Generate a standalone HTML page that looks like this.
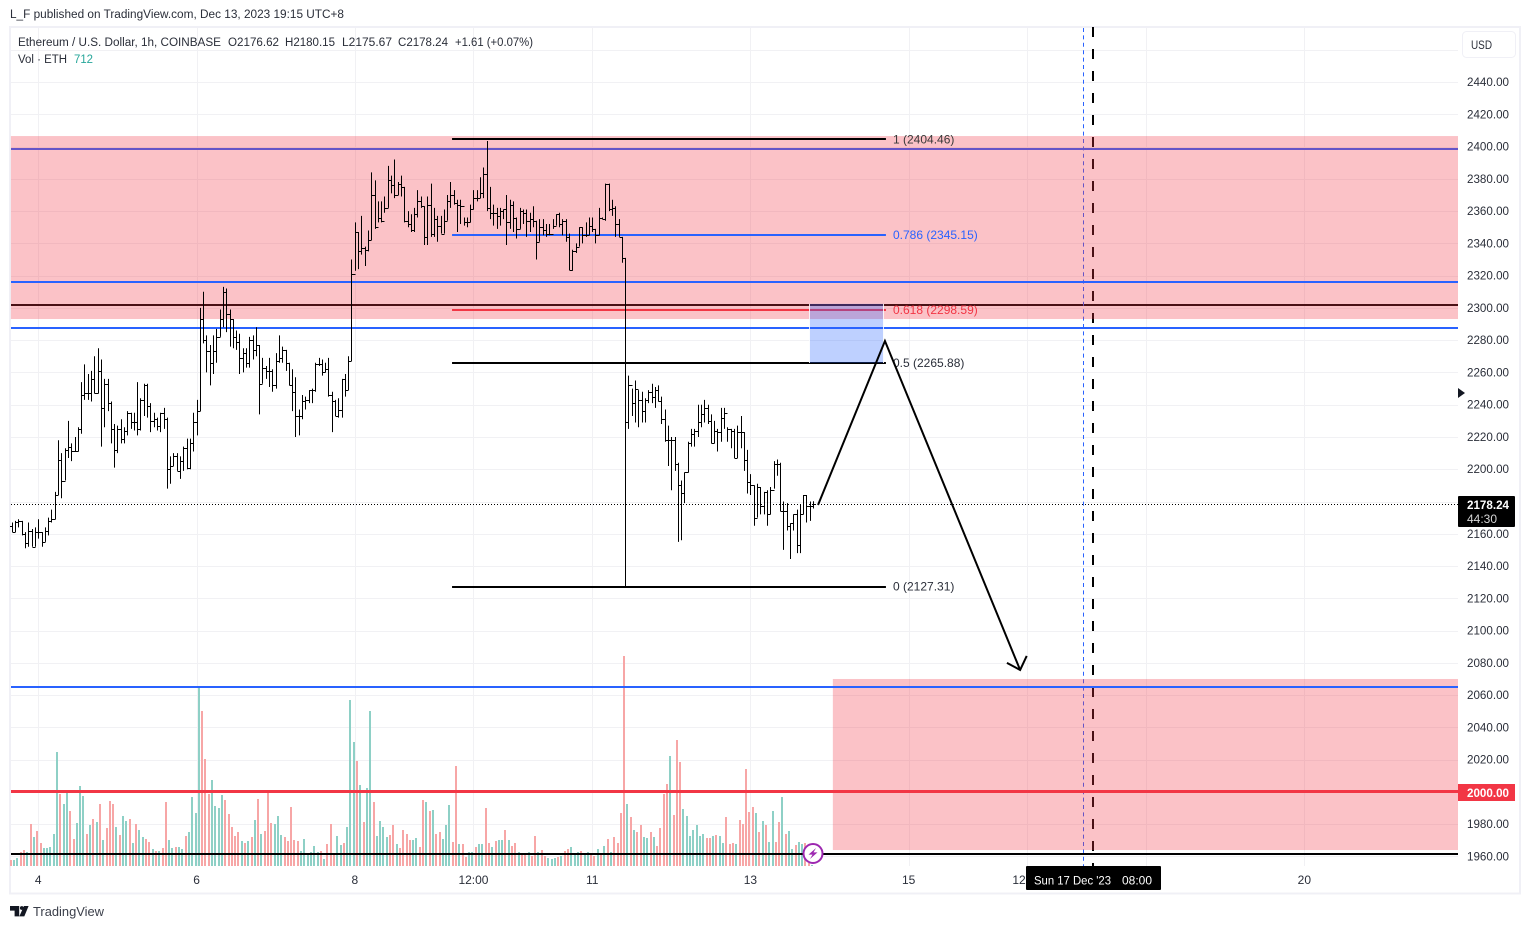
<!DOCTYPE html>
<html lang="en">
<head>
<meta charset="utf-8">
<title>ETH/USD chart</title>
<style>
html,body{margin:0;padding:0;background:#fff;width:1530px;height:929px;overflow:hidden}
svg{display:block;font-family:"Liberation Sans",Arial,sans-serif}
text{fill:#2a2e39;font-size:11.5px}
</style>
</head>
<body>
<svg id="chart" width="1530" height="929" viewBox="0 0 1530 929" xmlns="http://www.w3.org/2000/svg">
  <rect x="0" y="0" width="1530" height="929" fill="#ffffff"/>
  <text x="10" y="18" textLength="334" lengthAdjust="spacingAndGlyphs">L_F published on TradingView.com, Dec 13, 2023 19:15 UTC+8</text>
  <rect x="10" y="27" width="1510" height="866.5" fill="none" stroke="#f0f0f6" stroke-width="2"/>
  <g id="grid"></g>
  <g id="under"></g>
  <g id="zones"></g>
  <g id="volume"></g>
  <g id="levels"></g>
  <g id="fib"></g>
  <g id="ohlc"></g>
  <g id="overlay"></g>
  <g>
    <circle cx="813" cy="853.5" r="9.5" fill="#ffffff" stroke="#9c27b0" stroke-width="2"/>
    <path d="M816 848 L808.5 854.6 H812.5 L810 859 L817.5 852.4 H813.5 Z" fill="#9c27b0"/>
  </g>
  <text x="18" y="46" textLength="203" lengthAdjust="spacingAndGlyphs">Ethereum / U.S. Dollar, 1h, COINBASE</text>
  <text x="228" y="46" textLength="51" lengthAdjust="spacingAndGlyphs">O2176.62</text>
  <text x="285" y="46" textLength="50" lengthAdjust="spacingAndGlyphs">H2180.15</text>
  <text x="342" y="46" textLength="50" lengthAdjust="spacingAndGlyphs">L2175.67</text>
  <text x="398" y="46" textLength="50" lengthAdjust="spacingAndGlyphs">C2178.24</text>
  <text x="455" y="46" textLength="78" lengthAdjust="spacingAndGlyphs">+1.61 (+0.07%)</text>
  <text x="18" y="63" textLength="49" lengthAdjust="spacingAndGlyphs">Vol · ETH</text>
  <text x="74" y="63" textLength="19" lengthAdjust="spacingAndGlyphs" style="fill:#26a69a">712</text>
  <g id="priceAxis"></g>
  <g id="timeAxis"></g>
  <rect x="1462.5" y="31.5" width="53" height="26" rx="4" fill="#ffffff" stroke="#f0f0f6"/>
  <text x="1471" y="49" textLength="21" lengthAdjust="spacingAndGlyphs">USD</text>
  <path d="M1458 388 L1465 393 L1458 398 Z" fill="#131722"/>
  <rect x="1458" y="784" width="57" height="17" fill="#f23645"/>
  <text x="1467" y="797" textLength="42" lengthAdjust="spacingAndGlyphs" style="fill:#fff;font-weight:bold">2000.00</text>
  <rect x="1458" y="496" width="57" height="31" rx="1" fill="#000000"/>
  <text x="1467" y="509" textLength="42" lengthAdjust="spacingAndGlyphs" style="fill:#fff;font-weight:bold">2178.24</text>
  <text x="1467" y="523" textLength="30" lengthAdjust="spacingAndGlyphs" style="fill:#d6d6d6">44:30</text>
  <rect x="1026" y="866" width="135" height="24" rx="1" fill="#000000"/>
  <text x="1034" y="884.5" textLength="77" lengthAdjust="spacingAndGlyphs" style="fill:#fff;font-size:12px">Sun 17 Dec '23</text>
  <text x="1122" y="884.5" textLength="30" lengthAdjust="spacingAndGlyphs" style="fill:#fff;font-size:12px">08:00</text>
  <g>
    <path d="M10 906h9.2v10.4h-4.6v-5.8H10z" fill="#131722"/>
    <circle cx="21.8" cy="908" r="1.9" fill="#131722"/>
    <path d="M24 906h4.6l-4.3 10.4h-5z" fill="#131722"/>
  </g>
  <text x="33" y="916" textLength="71" lengthAdjust="spacingAndGlyphs" style="font-size:13px;fill:#3b3f4a">TradingView</text>
</svg>
<script>
const highs = [
2167,2168,2169,2168,2161,2167,2163,2164,2169,2161,
2164,2170,2175,2186,2218,2210,2213,2230,2216,2220,
2226,2254,2265,2259,2261,2270,2275,2268,2256,2256,
2242,2228,2227,2231,2226,2236,2235,2235,2254,2244,
2253,2253,2241,2235,2232,2235,2238,2232,2208,2210,
2210,2208,2214,2219,2219,2235,2243,2300,2310,2283,
2277,2283,2287,2299,2313,2312,2299,2293,2286,2284,
2275,2275,2282,2283,2288,2277,2269,2264,2269,2262,
2272,2283,2276,2274,2266,2262,2257,2237,2246,2245,
2249,2250,2266,2269,2268,2266,2269,2248,2243,2244,
2256,2259,2270,2330,2353,2347,2357,2338,2348,2384,
2379,2366,2366,2369,2388,2382,2392,2378,2382,2375,
2360,2358,2362,2373,2369,2363,2369,2377,2362,2357,
2357,2361,2370,2378,2373,2367,2367,2356,2356,2364,
2373,2373,2381,2387,2403.4,2375,2364,2362,2362,2361,
2370,2367,2366,2356,2362,2361,2361,2359,2363,2354,
2355,2355,2352,2352,2355,2358,2359,2355,2355,2346,
2336,2340,2350,2350,2353,2356,2356,2349,2362,2356,
2377,2377,2367,2363,2355,2344,2331,2258,2250,2255,
2249,2248,2244,2249,2253,2251,2252,2245,2237,2227,
2220,2220,2204,2193,2198,2217,2225,2225,2240,2240,
2243,2240,2234,2230,2225,2238,2238,2226,2225,2225,
2227,2233,2223,2212,2197,2190,2191,2189,2186,2187,
2189,2205,2206,2204,2180,2179,2166.5,2172,2175,2178,
2184,2184,2180,2180.15];
const lows = [
2161,2161,2164,2159,2151,2152,2152,2152,2157,2152,
2155,2159,2167,2169,2184,2182,2193,2207,2205,2211,
2211,2222,2243,2243,2242,2247,2247,2214,2226,2236,
2216,2201,2210,2216,2216,2221,2225,2224,2221,2224,
2233,2232,2223,2226,2224,2223,2225,2188,2191,2202,
2199,2194,2199,2200,2200,2211,2221,2236,2278,2260,
2252,2259,2266,2282,2288,2285,2276,2275,2274,2259,
2260,2263,2263,2268,2270,2234,2253,2256,2251,2248,
2250,2266,2266,2261,2252,2236,2220,2221,2231,2237,
2241,2241,2248,2264,2258,2260,2245,2223,2233,2232,
2232,2245,2249,2267,2323,2324,2333,2326,2335,2342,
2349,2353,2353,2359,2362,2371,2368,2370,2369,2353,
2350,2347,2347,2356,2362,2339,2339,2344,2344,2341,
2346,2346,2354,2362,2364,2347,2352,2351,2350,2353,
2361,2366,2368,2368,2360,2355,2351,2349,2351,2355,
2339,2349,2347,2343,2349,2352,2344,2347,2350,2330,
2341,2345,2344,2345,2349,2351,2350,2345,2341,2323.4,
2323,2334,2338,2340,2344,2345,2347,2340,2345,2355,
2354,2360,2357,2344,2344,2328,2127.31,2225,2233,2229,
2226,2229,2229,2241,2241,2238,2242,2228,2217,2202,
2187,2199,2155,2156,2179,2198,2214,2214,2220,2226,
2229,2228,2216,2216,2211,2217,2225,2217,2213,2207,
2207,2213,2199,2185,2184,2165,2170,2172,2172,2165,
2172,2188,2196,2174,2150,2162,2144.4,2162,2148,2148,
2172,2167,2168,2175.67];
const closes = [
2161,2167,2168,2160,2154,2162,2152,2161,2161,2155,
2162,2168,2169,2184,2206,2193,2212,2214,2211,2211,
2225,2246,2247,2247,2256,2247,2261,2238,2253,2241,
2225,2212,2225,2219,2224,2235,2229,2229,2225,2243,
2252,2239,2230,2231,2227,2235,2231,2200,2202,2208,
2199,2205,2213,2201,2216,2229,2236,2293,2280,2273,
2266,2273,2282,2293,2310,2296,2293,2282,2279,2269,
2272,2266,2280,2274,2277,2253,2263,2261,2261,2252,
2267,2269,2274,2266,2252,2248,2233,2233,2242,2243,
2249,2249,2265,2265,2260,2262,2246,2242,2233,2237,
2256,2249,2267,2321,2347,2335,2337,2336,2342,2370,
2350,2356,2354,2362,2379,2376,2370,2377,2375,2354,
2352,2348,2358,2366,2363,2344,2364,2346,2355,2351,
2346,2354,2366,2370,2365,2364,2363,2353,2353,2361,
2368,2368,2371,2383,2362,2359,2359,2357,2360,2361,
2353,2364,2356,2349,2360,2359,2354,2355,2354,2341,
2350,2348,2346,2346,2351,2358,2352,2354,2344,2323.4,
2335,2338,2350,2345,2345,2351,2349,2345,2356,2355,
2377,2361,2362,2352,2344,2331,2229.5,2252,2241,2250,
2243,2236,2243,2248,2245,2249,2242,2231,2218,2218,
2218,2203,2190,2185,2198,2216,2222,2224,2229,2234,
2238,2230,2216,2224,2223,2232,2235,2225,2224,2207,
2223,2223,2206,2192,2190,2170,2189,2177,2186,2172,
2187,2203,2203,2174,2174,2165,2166.5,2172,2153,2172,
2184,2177,2177,2178.24];
const firstOpen = 2165;
const volumes = [
6,6,8,14,16,14,42,29,35,23,
18,18,19,32,114,72,62,75,55,27,
43,80,70,32,41,47,44,62,26,38,
65,62,39,31,50,45,47,23,42,36,
29,27,24,17,15,15,18,64,26,18,
19,19,17,30,34,69,53,179,155,107,
72,86,60,58,71,66,52,39,30,34,
25,23,25,29,46,67,32,35,76,43,
42,50,31,29,25,59,26,25,15,27,
12,14,20,14,15,7,22,42,12,30,
21,23,39,166,124,105,81,44,78,155,
64,30,45,39,29,31,41,22,18,36,
32,26,26,28,19,66,64,55,56,32,
34,27,41,61,24,100,22,22,9,14,
14,19,22,22,58,23,19,25,26,26,
36,26,20,23,14,11,11,14,10,30,
14,16,10,8,7,8,9,10,15,17,
19,12,14,15,12,14,12,10,17,11,
20,27,14,29,23,53,210,62,49,36,
34,41,29,28,34,29,20,38,72,82,
110,51,126,104,57,50,30,36,41,30,
32,28,28,30,31,30,23,49,22,23,
22,46,42,97,54,59,53,34,45,41,
24,55,24,44,69,32,35,17,21,24,
22,23,3,1];
const volumeColors = (
"rggrrgrgrr"+"gggggrggrr"+"gggrgrgrgr"+"rrgrggrgrg"+"grrgrgrrgg"+
"rggrggggrr"+"rggggrrrrr"+"grgrgrgrrr"+"gggrrrrrgg"+"ggggrgrrrg"+
"grgggrgrgg"+"rggggrrgrr"+"rrggrrgrgr"+"rgggrrgrrg"+"grggrrgrgg"+
"rgrrgrrgrr"+"grrgggrgrr"+"gggrggrrgr"+"grgrrrrgrg"+"rrggrgrrrr"+
"grrrgggggg"+"grrgrggrrr"+"grrrrrgrgr"+"ggrrgrggrg"+"grrg").split("");
const priceTicks = [2440,2420,2400,2380,2360,2340,2320,2300,2280,2260,2240,2220,2200,2180,2160,2140,2120,2100,2080,2060,2040,2020,2000,1980,1960];
const hiddenGridTicks = [2460];
const timeTickIndex = [8,56,104,140,176,224,272,308,344,392];
const timeTickLabels = ["4","6","8","12:00","11","13","15","12:00","18","20"];
const fibRatios = ["1","0.786","0.618","0.5","0"];
const fibPrices = [2404.46,2345.15,2298.59,2265.88,2127.31];
const fibColors = ["#000000","#2962ff","#f23645","#000000","#000000"];
const fibLabelColors = ["#3a3a3a","#2962ff","#f23645","#2a2e39","#2a2e39"];
const fibStartIndex = 133.5;
const fibEndIndex = 265.1;
const arrowIndex = [244.5,264.8,305.8];
const arrowPrice = [2177.8,2279.5,2075.6];
const arrowHeadIndex = [301.8,305.8,307.8];
const arrowHeadPrice = [2080,2075.6,2084.3];
const zoneTop = [2406.5,2070];
const zoneBottom = [2293.1,1964];
const zoneStartIndex = [-0.3,249];
const levelUnderPrices = [2398.5,2301.8];
const levelUnderColors = ["#2962ff","#000000"];
const levelOverPrices = [2316,2287.5,2065,2000,1961.6];
const levelOverColors = ["#2962ff","#2962ff","#2962ff","#f23645","#000000"];
const levelOverWidths = [2,2,2,3,2];
const lastPrice = 2178.24;
const entryBoxIndex = [241.8,264.3];
const entryBoxPrice = [2302.5,2265.88];
const verticalThinIndex = 325;
const verticalThickIndex = 327.9;

const PANE_L = 11, PANE_R = 1458, PANE_T = 28, PANE_B = 866;
const NS = "http://www.w3.org/2000/svg";
function yScale(p){ return 82 + (2440 - p) * 1.6135; }
function xScale(i){ return 11.9 + 3.297 * i; }
function volHeight(v){ return v * 1; }
function snapY(y, w){ return w % 2 === 0 ? Math.round(y) : Math.floor(y) + 0.5; }
function make(tag, attrs, parent){
  const e = document.createElementNS(NS, tag);
  for (const k in attrs) e.setAttribute(k, attrs[k]);
  parent.appendChild(e);
  return e;
}
function g(id){ return document.getElementById(id); }

/* grid */
priceTicks.concat(hiddenGridTicks).forEach(function(p){
  const y = Math.round(yScale(p)) + 0.5;
  const l = make("line", {x1:PANE_L, x2:PANE_R, y1:y, y2:y, stroke:"#f1f1f4", "stroke-width":1}, g("grid"));
  
  
});
timeTickIndex.forEach(function(ti){
  const x = Math.round(xScale(ti)) + 0.5;
  const l = make("line", {x1:x, x2:x, y1:PANE_T, y2:PANE_B, stroke:"#f1f1f4", "stroke-width":1}, g("grid"));
  
  
});

/* drawn beneath the translucent zones */
levelUnderPrices.forEach(function(p, k){
  const y = snapY(yScale(p), 2);
  const l = make("line", {x1:PANE_L, x2:PANE_R, y1:y, y2:y, stroke:levelUnderColors[k], "stroke-width":2}, g("under"));
  
  
});
const thinV = make("line", {x1:Math.floor(xScale(verticalThinIndex))+0.5, x2:Math.floor(xScale(verticalThinIndex))+0.5, y1:PANE_T, y2:PANE_B, stroke:"#2962ff", "stroke-width":1, "stroke-dasharray":"4 3.4"}, g("under"));


const thickV = make("line", {x1:Math.round(xScale(verticalThickIndex)), x2:Math.round(xScale(verticalThickIndex)), y1:27, y2:PANE_B, stroke:"#000000", "stroke-width":2, "stroke-dasharray":"10 12"}, g("under"));



/* zones */
zoneTop.forEach(function(p, k){
  const y1 = yScale(p), y2 = yScale(zoneBottom[k]), x = xScale(zoneStartIndex[k]);
  const r = make("rect", {x:x, y:y1, width:PANE_R - x, height:y2 - y1, fill:"rgba(242,54,69,0.3)"}, g("zones"));
  
  
});

/* volume */
volumes.forEach(function(v, i){
  const h = volHeight(v);
  const x = Math.round(xScale(i)) - 2;
  const r = make("rect", {x:x, y:PANE_B - h, width:2, height:h, fill:volumeColors[i] === "g" ? "#8ed0c6" : "#f7a6a6"}, g("volume"));
  
  
});

/* levels */
levelOverPrices.forEach(function(p, k){
  const y = snapY(yScale(p), levelOverWidths[k]);
  const l = make("line", {x1:PANE_L, x2:PANE_R, y1:y, y2:y, stroke:levelOverColors[k], "stroke-width":levelOverWidths[k]}, g("levels"));
  
  
});
const lastLine = make("line", {x1:PANE_L, x2:PANE_R, y1:Math.round(yScale(lastPrice))+0.5, y2:Math.round(yScale(lastPrice))+0.5, stroke:"#000000", "stroke-width":1, "stroke-dasharray":"1 2"}, g("levels"));



/* fib */
fibPrices.forEach(function(p, k){
  const y = yScale(p);
  const ly = snapY(y, 2);
  const l = make("line", {x1:xScale(fibStartIndex), x2:xScale(fibEndIndex), y1:ly, y2:ly, stroke:fibColors[k], "stroke-width":2}, g("fib"));
  
  
  const t = make("text", {x:893, y:y + 4, style:"font-size:12px;fill:" + fibLabelColors[k]}, g("fib"));
  
  
  t.textContent = fibRatios[k] + " (" + p.toFixed(2) + ")";
});

/* OHLC */
closes.forEach(function(c, i){
  const o = i === 0 ? firstOpen : closes[i - 1];
  const x = Math.round(xScale(i));
  const d = "M" + (x + 0.5) + " " + yScale(highs[i]) + "V" + yScale(lows[i]) +
    "M" + (x - 2) + " " + (Math.round(yScale(o)) + 0.5) + "H" + (x + 0.5) +
    "M" + (x + 0.5) + " " + (Math.round(yScale(c)) + 0.5) + "H" + (x + 3);
  const p = make("path", {d:d, fill:"none", stroke:"#000000", "stroke-width":1}, g("ohlc"));
  
  
});

/* entry box */
const bx1 = Math.round(xScale(entryBoxIndex[0])) + 0.5, bx2 = Math.round(xScale(entryBoxIndex[1])) + 0.5;
const by1 = yScale(entryBoxPrice[0]), by2 = yScale(entryBoxPrice[1]);
const box = make("rect", {x:bx1, y:by1, width:bx2 - bx1, height:by2 - by1, fill:"rgba(41,98,255,0.3)"}, g("overlay"));


[bx1, bx2].forEach(function(x){
  const l = make("line", {x1:x, x2:x, y1:by1, y2:by2, stroke:"#ffffff", "stroke-width":1, "stroke-opacity":0.85}, g("overlay"));
  
  
});

/* arrow */
const arrowPts = arrowIndex.map(function(ti, k){ return xScale(ti) + "," + yScale(arrowPrice[k]); }).join(" ");
const arrow = make("polyline", {points:arrowPts, fill:"none", stroke:"#000000", "stroke-width":2, "stroke-linejoin":"miter"}, g("overlay"));


const headPts = arrowHeadIndex.map(function(ti, k){ return xScale(ti) + "," + yScale(arrowHeadPrice[k]); }).join(" ");
const head = make("polyline", {points:headPts, fill:"none", stroke:"#000000", "stroke-width":2}, g("overlay"));



/* price axis */
priceTicks.forEach(function(p){
  const t = make("text", {x:1467, y:yScale(p) + 4, textLength:42, lengthAdjust:"spacingAndGlyphs"}, g("priceAxis"));
  
  
  t.textContent = p.toFixed(2);
});

/* time axis */
timeTickLabels.forEach(function(lbl, k){
  const t = make("text", {x:xScale(timeTickIndex[k]), y:884, "text-anchor":"middle", style:"font-size:12px"}, g("timeAxis"));
  
  
  t.textContent = lbl;
});
</script>
</body>
</html>
